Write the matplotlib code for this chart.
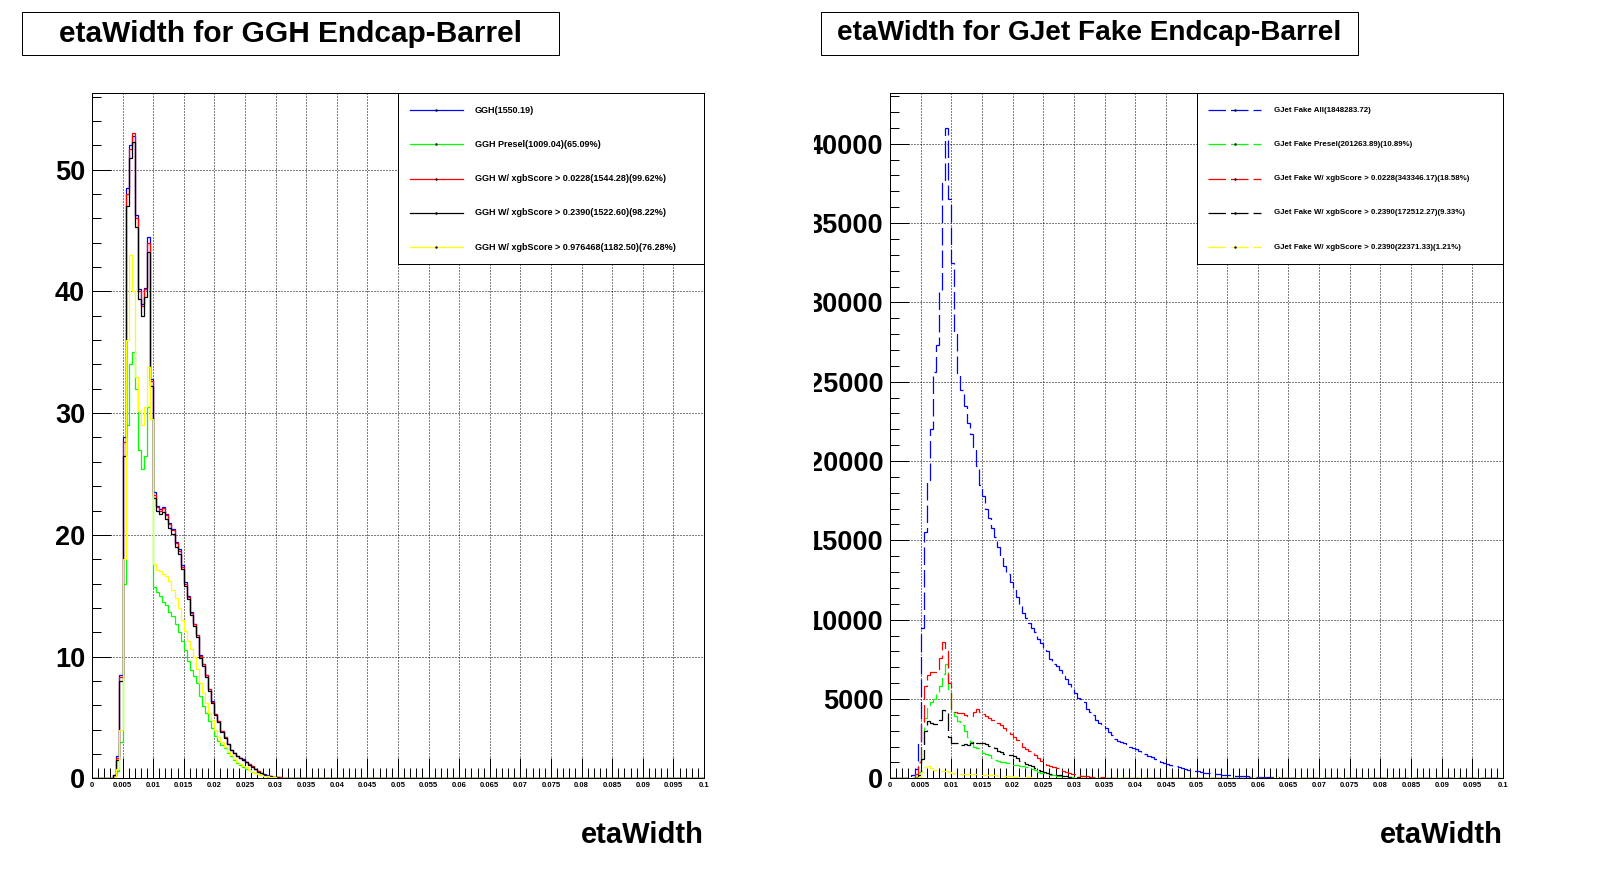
import numpy as np
import matplotlib
matplotlib.use("Agg")
import matplotlib.pyplot as plt
from matplotlib.patches import Rectangle
from matplotlib.lines import Line2D
from matplotlib.ticker import MultipleLocator, FuncFormatter
from matplotlib.transforms import Bbox, TransformedBbox, blended_transform_factory

plt.rcParams['font.family'] = ['Liberation Sans', 'DejaVu Sans']

# ROOT TH1 binning of etaWidth
N_BINS = 200
X_MIN, X_MAX = 0.0, 0.1

# ---- GGH (signal), bin contents starting at bin 7 (etaWidth = 0.0035)
ggh_first_bin = 7
ggh_all = [0.3, 1.8, 8.5, 28.0, 48.5, 52.0, 52.8, 46.3, 40.2, 39.0, 40.3, 44.5, 32.8,
           23.5, 22.4, 22.1, 22.3, 21.7, 21.0, 20.5, 19.4, 18.8, 17.5,
           16.1, 15.0, 13.7, 12.7, 11.8, 10.1, 9.4, 8.5, 7.35, 6.35,
           5.3, 4.7, 3.9, 3.4, 2.85, 2.35, 2.1, 1.85, 1.7, 1.55,
           1.35, 1.15, 1.0, 0.8, 0.58, 0.45, 0.32, 0.24, 0.19, 0.13, 0.11, 0.07, 0.05, 0.03, 0.02]
ggh_presel = [0.05, 0.6, 3.0, 16.0, 29.0, 34.0, 35.0, 32.0, 27.0, 25.4, 26.5, 30.5, 29.5,
              15.7, 15.3, 15.0, 14.5, 14.2, 13.7, 13.3, 12.7, 12.0, 11.3,
              10.5, 9.6, 8.9, 8.4, 7.8, 6.8, 5.9, 5.4, 4.7, 4.1,
              3.5, 3.1, 2.7, 2.5, 2.1, 1.8, 1.5, 1.25, 1.1, 0.95,
              0.8, 0.65, 0.55, 0.45, 0.38, 0.3, 0.22, 0.18, 0.12, 0.1, 0.07, 0.05, 0.03, 0.02, 0.01]
ggh_xgb_0228 = [0.28, 1.7, 8.3, 27.6, 48.0, 51.7, 53.0, 46.0, 40.0, 38.8, 40.2, 44.0, 32.6,
                23.3, 22.3, 22.0, 22.2, 21.6, 20.9, 20.4, 19.3, 18.7, 17.4,
                16.0, 14.9, 13.6, 12.7, 11.75, 10.05, 9.35, 8.45, 7.3, 6.3,
                5.28, 4.68, 3.88, 3.38, 2.84, 2.34, 2.09, 1.84, 1.69, 1.54,
                1.34, 1.14, 0.99, 0.79, 0.57, 0.44, 0.31, 0.23, 0.19, 0.13, 0.11, 0.07, 0.05, 0.03, 0.02]
ggh_xgb_2390 = [0.25, 1.5, 8.0, 26.5, 47.0, 51.0, 52.3, 45.3, 39.4, 38.0, 39.5, 43.2, 32.2,
                23.0, 22.0, 21.7, 21.9, 21.3, 20.6, 20.1, 19.0, 18.4, 17.2,
                15.8, 14.7, 13.4, 12.5, 11.6, 9.9, 9.2, 8.3, 7.2, 6.2,
                5.2, 4.6, 3.8, 3.3, 2.8, 2.3, 2.05, 1.8, 1.65, 1.5,
                1.3, 1.1, 0.95, 0.75, 0.55, 0.42, 0.3, 0.22, 0.18, 0.12, 0.1, 0.06, 0.04, 0.03, 0.02]
ggh_xgb_9765 = [0.05, 0.8, 4.0, 18.0, 36.0, 43.0, 40.0, 33.0, 30.2, 29.0, 30.5, 33.8, 29.5,
                17.6, 17.1, 17.0, 16.8, 16.6, 16.2, 15.5, 14.8, 14.0, 13.0,
                12.1, 11.3, 10.6, 10.0, 9.0, 7.8, 7.0, 6.2, 5.4, 4.8,
                4.0, 3.4, 3.0, 2.6, 2.2, 1.9, 1.6, 1.35, 1.2, 1.0,
                0.9, 0.7, 0.55, 0.45, 0.35, 0.28, 0.2, 0.15, 0.1, 0.08, 0.05, 0.03, 0.02, 0.01, 0.01]
ggh_labels = ["GGH(1550.19)",
              "GGH Presel(1009.04)(65.09%)",
              "GGH W/ xgbScore > 0.0228(1544.28)(99.62%)",
              "GGH W/ xgbScore > 0.2390(1522.60)(98.22%)",
              "GGH W/ xgbScore > 0.976468(1182.50)(76.28%)"]

# ---- GJet fake (background), thousands of events, starting at bin 6 (etaWidth = 0.003)
gjet_first_bin = 6
gjet_all_k = [0.05, 0.2, 0.6, 2.3, 9.5, 15.5, 18.8, 22.0, 25.6, 27.3, 30.7, 37.5, 41.0, 36.5,
              32.5, 28.0, 25.5, 24.5, 23.5, 22.4, 21.7, 20.9, 19.7, 18.5,
              17.8, 17.0, 16.4, 15.8, 15.2, 14.6, 14.0, 13.4, 12.9, 12.4,
              12.0, 11.4, 10.9, 10.4, 10.1, 9.8, 9.5, 9.2, 8.8, 8.5,
              8.15, 8.0, 7.5, 7.2, 7.05, 6.8, 6.45, 6.25, 5.95, 5.65,
              5.35, 5.05, 4.97, 4.8, 4.4, 4.2, 4.0, 3.7, 3.5, 3.4,
              3.15, 2.95, 2.7, 2.5, 2.38, 2.3, 2.22, 2.15, 2.0, 1.9,
              1.83, 1.7, 1.62, 1.52, 1.43, 1.33, 1.2, 1.12, 1.05, 0.98,
              0.9, 0.85, 0.8, 0.76, 0.72, 0.66, 0.58, 0.54, 0.5, 0.47,
              0.43, 0.4, 0.36, 0.34, 0.33, 0.31, 0.28, 0.25, 0.23, 0.21,
              0.2, 0.18, 0.16, 0.15, 0.13, 0.12, 0.12, 0.11, 0.1, 0.1,
              0.09, 0.08, 0.08, 0.07, 0.07, 0.07, 0.06, 0.05, 0.05, 0.05,
              0.04, 0.04, 0.03, 0.03, 0.03, 0.02, 0.02, 0.02, 0.02, 0.01, 0.01]
gjet_presel_k = [0.0, 0.0, 0.1, 0.4, 2.0, 3.8, 4.6, 4.8, 5.0, 5.4, 5.8, 6.6, 7.2, 5.6,
                 4.2, 3.9, 3.6, 3.35, 3.0, 2.6, 2.3, 2.0, 1.9, 1.75,
                 1.6, 1.55, 1.48, 1.3, 1.15, 1.1, 1.05, 1.0, 0.95, 0.9,
                 0.85, 0.82, 0.8, 0.75, 0.72, 0.68, 0.6, 0.52, 0.42, 0.36,
                 0.34, 0.3, 0.22, 0.2, 0.17, 0.15, 0.12, 0.1, 0.08, 0.07,
                 0.05, 0.04, 0.03, 0.02, 0.02]
gjet_xgb_0228_k = [0.0, 0.0, 0.3, 1.0, 3.5, 5.8, 6.5, 6.7, 6.7, 6.9, 7.6, 8.6, 8.0, 6.0,
                   4.3, 4.2, 4.1, 4.1, 4.0, 3.9, 3.95, 4.2, 4.4, 4.2,
                   4.05, 3.95, 3.8, 3.7, 3.6, 3.5, 3.35, 3.15, 3.0, 2.8,
                   2.6, 2.4, 2.2, 2.0, 1.85, 1.7, 1.6, 1.45, 1.25, 1.1,
                   0.95, 0.85, 0.78, 0.7, 0.62, 0.55, 0.48, 0.42, 0.35, 0.3,
                   0.25, 0.2, 0.17, 0.14, 0.12, 0.1, 0.09, 0.08, 0.07, 0.06,
                   0.05, 0.04, 0.03, 0.02, 0.02]
gjet_xgb_2390_k = [0.0, 0.0, 0.05, 0.2, 1.2, 3.0, 3.6, 3.5, 3.4, 3.4, 3.7, 4.3, 4.1, 2.6,
                   2.25, 2.2, 2.2, 2.1, 2.15, 2.1, 2.2, 2.35, 2.2, 2.25,
                   2.2, 2.15, 2.05, 2.0, 1.9, 1.75, 1.65, 1.55, 1.5, 1.48,
                   1.4, 1.3, 1.12, 1.0, 0.9, 0.82, 0.75, 0.65, 0.55, 0.45,
                   0.37, 0.31, 0.28, 0.25, 0.21, 0.18, 0.15, 0.12, 0.1, 0.08,
                   0.07, 0.06, 0.05, 0.04, 0.03, 0.02]
gjet_xgb_high_k = [0.0, 0.0, 0.02, 0.1, 0.4, 0.7, 0.78, 0.68, 0.55, 0.5, 0.48, 0.47, 0.45, 0.4,
                   0.32, 0.3, 0.3, 0.29, 0.28, 0.28, 0.27, 0.26, 0.26, 0.25,
                   0.22, 0.21, 0.2, 0.19, 0.18, 0.16, 0.15, 0.14, 0.13, 0.12,
                   0.11, 0.1, 0.09, 0.08, 0.07, 0.06, 0.05, 0.05, 0.04, 0.04,
                   0.03, 0.03, 0.02, 0.02]
gjet_labels = ["GJet Fake All(1848283.72)",
               "GJet Fake Presel(201263.89)(10.89%)",
               "GJet Fake W/ xgbScore > 0.0228(343346.17)(18.58%)",
               "GJet Fake W/ xgbScore > 0.2390(172512.27)(9.33%)",
               "GJet Fake W/ xgbScore > 0.2390(22371.33)(1.21%)"]

colors = ['#0000ff', '#00ff00', '#ff0000', '#000000', '#ffff00']

edges = np.linspace(X_MIN, X_MAX, N_BINS + 1)


def fill_bins(values, first_bin, scale=1.0):
    h = np.zeros(N_BINS)
    h[first_bin:first_bin + len(values)] = np.asarray(values, dtype=float) * scale
    return h


DASH = (0, (14, 4))
W, H = 1598, 874
fig = plt.figure(figsize=(W / 100, H / 100), dpi=100)
fig.patch.set_facecolor('white')

ax_l = fig.add_axes([91.9 / W, 95.7 / H, 612.1 / W, 685.3 / H])
ax_r = fig.add_axes([890.0 / W, 95.7 / H, 613.0 / W, 685.3 / H])


def style_axes(ax, ymax, ymajor, yminor):
    ax.set_xlim(X_MIN, X_MAX)
    ax.set_ylim(0, ymax)
    ax.xaxis.set_major_locator(MultipleLocator(0.005))
    ax.xaxis.set_minor_locator(MultipleLocator(0.001))
    ax.yaxis.set_major_locator(MultipleLocator(ymajor))
    ax.yaxis.set_minor_locator(MultipleLocator(yminor))
    ax.xaxis.set_major_formatter(FuncFormatter(lambda v, p: f'{v:g}'))
    ax.yaxis.set_major_formatter(FuncFormatter(lambda v, p: f'{v:.0f}'))
    ax.tick_params(which='both', direction='in', top=False, right=False, width=0.72, color='black')
    ax.tick_params(axis='x', which='major', length=14.4, labelsize=5.5, pad=2.5)
    ax.tick_params(axis='x', which='minor', length=7.2)
    ax.tick_params(axis='y', which='major', length=13.7, labelsize=19.5, pad=4.8)
    ax.tick_params(axis='y', which='minor', length=6.5)
    for lab in ax.get_xticklabels() + ax.get_yticklabels():
        lab.set_fontweight('bold')
    ax.grid(True, which='major', color='black', linestyle=(0, (1, 2)), linewidth=0.72)
    ax.set_axisbelow(True)
    for sp in ax.spines.values():
        sp.set_linewidth(0.72)


def draw_legend(ax, labels, ls, fontsize, x_line0):
    ax.add_patch(Rectangle((0.5, 0.75), 0.5, 0.25, transform=ax.transAxes,
                           facecolor='white', edgecolor='black', linewidth=0.72, zorder=5))
    for i, (lab, col) in enumerate(zip(labels, colors)):
        y = 0.975 - 0.05 * i
        ax.add_line(Line2D([x_line0, 0.606], [y, y], transform=ax.transAxes,
                           color=col, linewidth=0.9, linestyle=ls, zorder=6))
        ax.add_line(Line2D([0.5625], [y], transform=ax.transAxes, marker='s',
                           markersize=0.7, color='black', linestyle='none', zorder=7))
        ax.text(0.626, y, lab, transform=ax.transAxes, fontsize=fontsize,
                fontweight='bold', ha='left', va='center', zorder=7)


# left: GGH
ggh_series = [ggh_all, ggh_presel, ggh_xgb_0228, ggh_xgb_2390, ggh_xgb_9765]
for i, vals in enumerate(ggh_series):
    ax_l.stairs(fill_bins(vals, ggh_first_bin), edges, color=colors[i], linewidth=0.9,
                baseline=0, zorder=2 + i * 0.1)
style_axes(ax_l, 56.3, 10, 2)
draw_legend(ax_l, ggh_labels, '-', 6.5, 0.52)

# right: GJet fake
gjet_series = [gjet_all_k, gjet_presel_k, gjet_xgb_0228_k, gjet_xgb_2390_k, gjet_xgb_high_k]
for i, vals in enumerate(gjet_series):
    ax_r.stairs(fill_bins(vals, gjet_first_bin, 1000.0), edges, color=colors[i], linewidth=0.9,
                linestyle=DASH, baseline=0, zorder=2 + i * 0.1)
style_axes(ax_r, 43200, 5000, 1000)
draw_legend(ax_r, gjet_labels, DASH, 5.7, 0.518)

# right pad cuts off the wide y labels
clip = TransformedBbox(Bbox.from_extents(814.3 / W, 0, 1, 1), fig.transFigure)
for lab in ax_r.get_yticklabels():
    lab.set_clip_box(clip)
    lab.set_clip_on(True)

# titles in boxes
for x0, title, fs in [(22, "etaWidth for GGH Endcap-Barrel", 21.5),
                      (821, "etaWidth for GJet Fake Endcap-Barrel", 20.2)]:
    fig.patches.append(Rectangle((x0 / W, (H - 55) / H), 537 / W, 43 / H, transform=fig.transFigure,
                                 facecolor='white', edgecolor='black', linewidth=0.72))
    fig.text((x0 + 268.5) / W, (H - 33.5) / H, title, ha='center', va='center',
             fontsize=fs, fontweight='bold')

# x axis titles
for ax in (ax_l, ax_r):
    tr = blended_transform_factory(ax.transAxes, fig.transFigure)
    ax.text(1.0, (H - 843.3) / H, "etaWidth", transform=tr, ha='right', va='baseline',
            fontsize=21, fontweight='bold')

fig.savefig('out.png', dpi=100, facecolor='white')
